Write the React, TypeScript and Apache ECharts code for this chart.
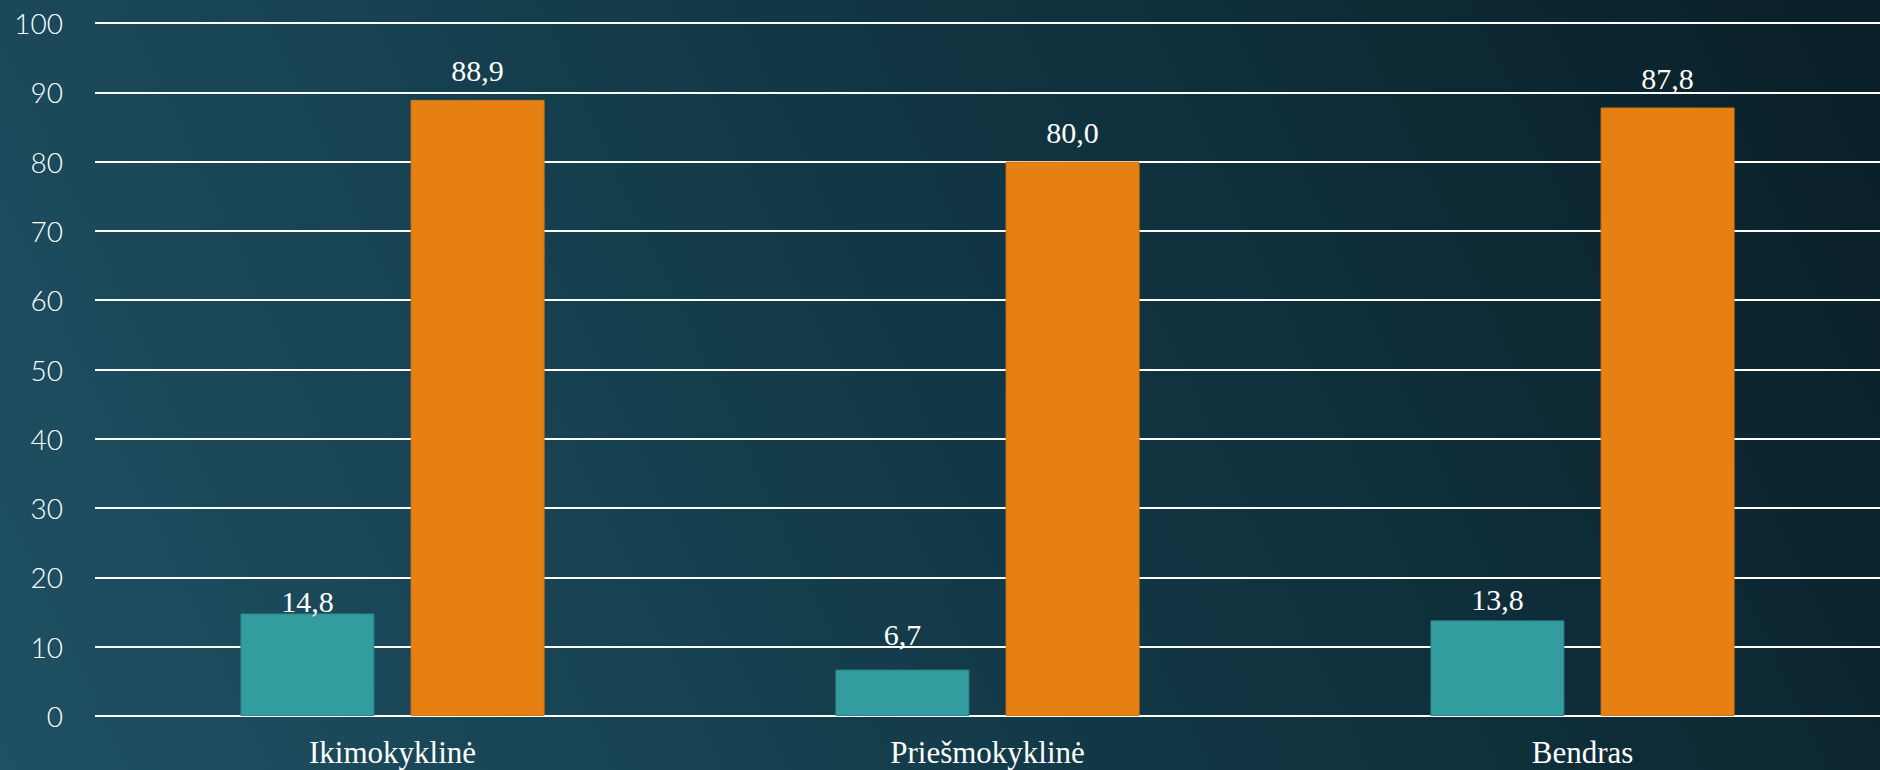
import React, { useEffect, useRef } from "react";
import * as echarts from "echarts";

const categories = ["Ikimokyklinė", "Priešmokyklinė", "Bendras"];
const seriesANames = "Serija 1";
const seriesBNames = "Serija 2";
const seriesAValues = [14.8, 6.7, 13.8];
const seriesBValues = [88.9, 80.0, 87.8];
const yTicks = [0, 10, 20, 30, 40, 50, 60, 70, 80, 90, 100];
// label distances above bars for series A, as laid out in the original
const seriesALabelDistance = [-3, 20, 6];

const fmt = (v: number) => v.toFixed(1).replace(".", ",");

export default function App() {
  const ref = useRef<HTMLDivElement>(null);
  useEffect(() => {
    if (!ref.current) return;
    const chart = echarts.init(ref.current, null, { renderer: "svg" });
    const labelBase = {
      show: true,
      position: "top",
      color: "#ffffff",
      fontFamily: "'Liberation Serif', 'Times New Roman', serif",
      fontSize: 30,
      formatter: (p: any) => fmt(p.value),
    };
    chart.setOption({
      animation: false,
      backgroundColor: "transparent",
      grid: { left: 95, width: 1791, top: 23, bottom: 54, containLabel: false },
      xAxis: {
        type: "category",
        data: categories,
        axisLine: { show: false },
        axisTick: { show: false },
        axisLabel: {
          color: "#ffffff",
          fontFamily: "'Liberation Serif', 'Times New Roman', serif",
          fontSize: 31,
          margin: 21,
        },
        splitLine: { show: false },
      },
      yAxis: {
        type: "value",
        min: yTicks[0],
        max: yTicks[yTicks.length - 1],
        interval: 10,
        axisLine: { show: false },
        axisTick: { show: false },
        axisLabel: {
          color: "#ffffff",
          fontFamily: "Lato, 'Open Sans', sans-serif",
          fontSize: 28,
          fontWeight: 300,
          margin: 32,
        },
        splitLine: { show: true, lineStyle: { color: "#ffffff", width: 2 } },
      },
      series: [
        {
          name: seriesANames,
          type: "bar",
          barWidth: 134,
          barGap: "27%",
          data: seriesAValues.map((v, i) => ({
            value: v,
            label: { distance: seriesALabelDistance[i] },
          })),
          itemStyle: { color: "#339c9f", borderColor: "#2a8489", borderWidth: 1 },
          label: { ...labelBase, distance: 6 },
        },
        {
          name: seriesBNames,
          type: "bar",
          barWidth: 134,
          barGap: "27%",
          data: seriesBValues,
          itemStyle: { color: "#e68012", borderColor: "#d57510", borderWidth: 1 },
          label: { ...labelBase, distance: 14 },
        },
      ],
    });
    return () => chart.dispose();
  }, []);
  return (
    <div
      style={{
        position: "fixed",
        left: 0,
        top: 0,
        width: 1880,
        height: 770,
        background:
          "linear-gradient(65deg, #1f5163 0%, #184555 25%, #123846 50%, #0e2d38 72%, #0a1f27 100%)",
      }}
    >
      <div ref={ref} style={{ width: 1880, height: 770 }} />
    </div>
  );
}
